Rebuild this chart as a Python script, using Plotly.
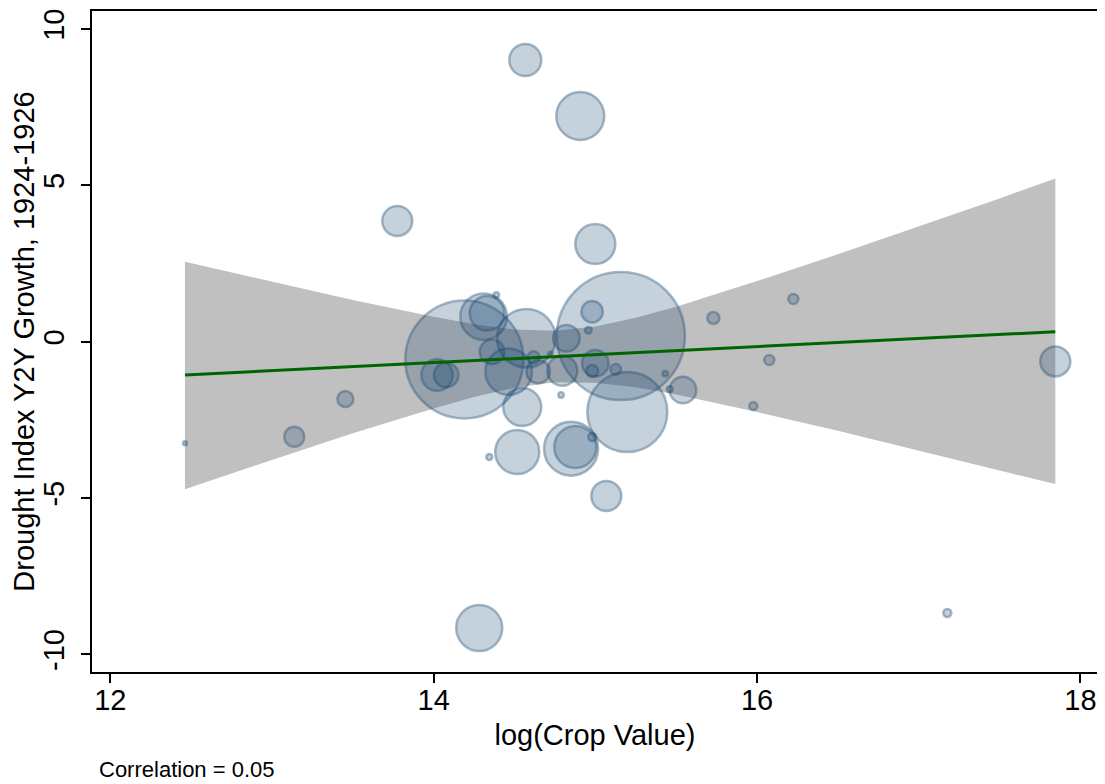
import plotly.graph_objects as go

# ---- data ----
log_crop_value = [14.567, 14.907, 13.775, 15.000, 15.158, 14.190, 15.198, 14.282,
                  17.845, 17.177, 15.068, 14.517, 14.850, 14.876, 14.548, 14.573,
                  14.309, 14.330, 14.388, 14.361, 14.464, 14.618, 14.646, 14.722,
                  14.821, 14.796, 14.980, 14.957, 15.000, 14.981, 15.126, 15.433,
                  15.460, 15.542, 14.788, 14.021, 14.078, 15.730, 16.225, 16.076,
                  15.977, 13.454, 13.138, 12.462, 14.344, 14.981]
drought_growth = [9.009, 7.218, 3.860, 3.124, 0.182, -0.569, -2.248, -9.156,
                  -0.630, -8.676, -4.934, -3.527, -3.420, -3.367, -2.088, 0.109,
                  0.800, 0.908, 1.493, -0.320, -0.959, -0.499, -0.959, -0.393,
                  0.109, -0.927, 0.959, 0.365, -0.691, -0.937, -0.883, -1.023,
                  -1.522, -1.545, -1.705, -1.065, -1.065, 0.758, 1.366, -0.585,
                  -2.056, -1.832, -3.038, -3.249, -3.687, -3.048]
weight = [256, 576, 225, 400, 4096, 3481, 1600, 529,
          225, 16, 225, 484, 729, 441, 361, 858,
          543, 299, 7, 151, 543, 36, 137, 5,
          177, 225, 114, 11, 177, 36, 28, 7,
          9, 177, 7, 246, 151, 36, 25, 25,
          16, 64, 100, 4, 9, 16]

# linear fit and 95% CI band
fit_x = [12.462, 17.845]
fit_y = [-1.065, 0.320]
ci_x = [12.462, 13.0, 13.5, 14.0, 14.25, 14.5, 14.75, 15.0, 15.25, 15.5,
        16.0, 16.5, 17.0, 17.5, 17.845]
ci_upper = [2.56, 1.92, 1.33, 0.80, 0.56, 0.39, 0.35, 0.49, 0.77, 1.12,
            1.94, 2.80, 3.69, 4.58, 5.22]
ci_lower = [-4.72, -3.78, -2.93, -2.14, -1.77, -1.47, -1.30, -1.31, -1.46, -1.69,
            -2.25, -2.85, -3.48, -4.12, -4.55]

x_ticks = [12, 14, 16, 18]
y_ticks = [-10, -5, 0, 5, 10]
y_tick_text = ["-10", "-5", "0", "5", "10"]
x_title = "log(Crop Value)"
y_title = "Drought Index Y2Y Growth, 1924-1926"
note = "Correlation = 0.05"

FONT = "Liberation Sans, Arial, sans-serif"
NAVY = "26,71,111"

# bubble diameter proportional to sqrt(weight) (area ~ weight)
sizes = [2.0 * (w ** 0.5) for w in weight]

fig = go.Figure()

fig.add_trace(go.Scatter(
    x=ci_x + ci_x[::-1], y=ci_upper + ci_lower[::-1],
    fill="toself", fillcolor="rgb(192,192,192)", mode="lines",
    line=dict(width=0, color="rgba(0,0,0,0)"), hoverinfo="skip"))

fig.add_trace(go.Scatter(
    x=log_crop_value, y=drought_growth, mode="markers",
    marker=dict(size=sizes, sizemode="diameter",
                color=f"rgba({NAVY},0.35)",
                line=dict(color=f"rgba({NAVY},0.55)", width=2.5))))

fig.add_trace(go.Scatter(
    x=fit_x, y=fit_y, mode="lines",
    line=dict(color="rgb(0,100,0)", width=3)))

axis_common = dict(showgrid=False, zeroline=False, showline=True, automargin=False,
                   linecolor="black", linewidth=2, mirror=True,
                   ticks="outside", ticklen=9, tickwidth=1.5, tickcolor="black",
                   tickfont=dict(family=FONT, size=29, color="black"))

fig.update_xaxes(range=[11.887, 18.109], tickvals=x_ticks, ticklabelstandoff=-8,
                 title=dict(text=x_title, font=dict(family=FONT, size=29, color="black"),
                            standoff=10),
                 **axis_common)
fig.update_yaxes(range=[-10.563, 10.576], tickvals=y_ticks, ticktext=y_tick_text,
                 tickangle=-90, ticklabelstandoff=5,
                 title=dict(text=y_title, font=dict(family=FONT, size=29, color="black"),
                            standoff=8),
                 **axis_common)

fig.add_annotation(text=note, xref="paper", yref="paper", x=0.005, y=-0.148,
                   xanchor="left", yanchor="middle", showarrow=False,
                   font=dict(family=FONT, size=22, color="black"))

# page body has an 8px margin, so the figure is 8px smaller and margins are shifted
fig.update_layout(width=1097, height=776, showlegend=False,
                  paper_bgcolor="white", plot_bgcolor="white",
                  margin=dict(l=84, r=7, t=3, b=112))

fig.write_html("out.html")
